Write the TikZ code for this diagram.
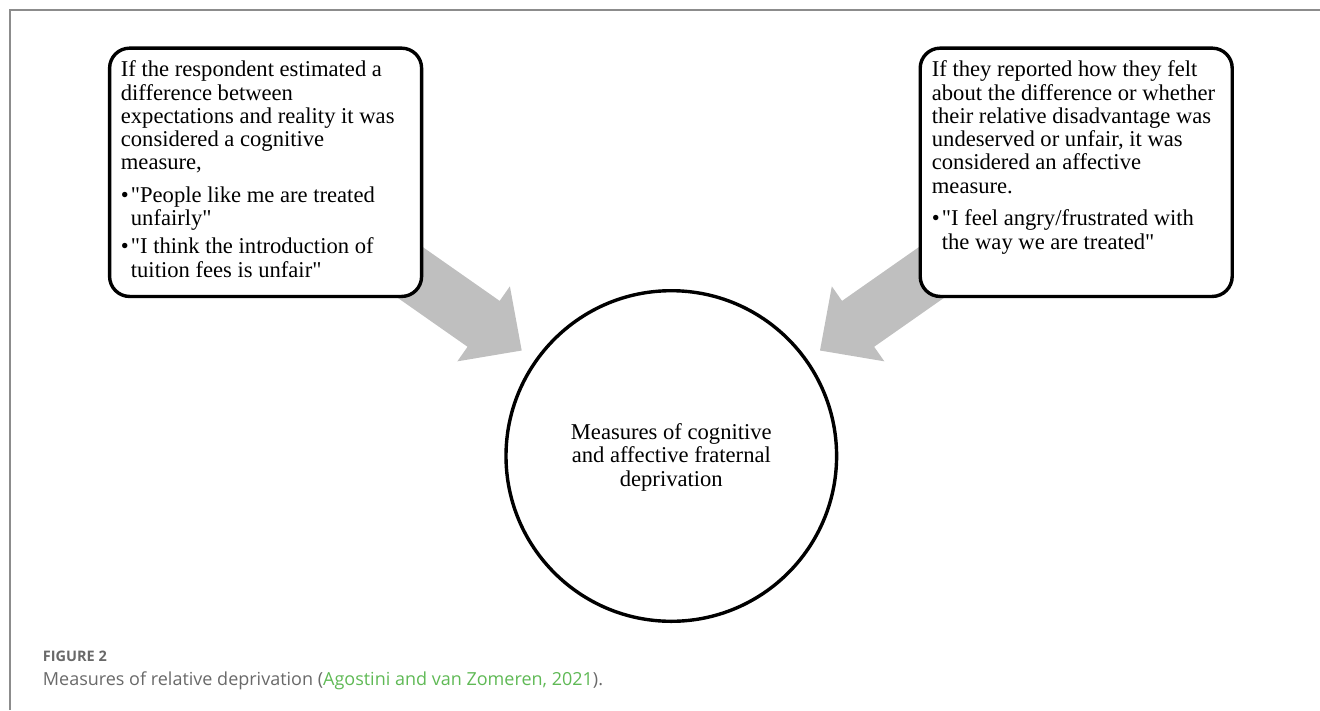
\documentclass[tikz,border=0pt]{standalone}
\usepackage{fontspec}
\setmainfont{Liberation Serif}
\newfontfamily\capfont{Open Sans}
\definecolor{arrowgray}{RGB}{191,191,191}
\definecolor{framegray}{RGB}{140,140,140}
\definecolor{capgray}{RGB}{105,105,105}
\definecolor{capgreen}{RGB}{95,185,85}
\newcommand\dq{\XeTeXglyph\XeTeXcharglyph"22\relax}
\newcommand\bul{\makebox[10pt][l]{\textbullet}}
\tikzset{
  blockarrow/.pic={\fill[arrowgray] (0,0) -- (-46.5,-45.8) -- (-46.5,-28) -- (-270,-28) -- (-270,28) -- (-46.5,28) -- (-46.5,45.8) -- cycle;},
  textbox/.style={draw=black, line width=3.4pt, rounded corners=20pt, fill=white,
    minimum width=312pt, minimum height=248.3pt, inner sep=0pt},
  boxtext/.style={anchor=base west, inner sep=0pt, font=\fontsize{22.6}{23.3}\selectfont},
  circtext/.style={anchor=base, inner sep=0pt, font=\fontsize{22.6}{23.8}\selectfont},
  captext/.style={anchor=base west, inner sep=0pt, text=capgray}
}
\begin{document}
\begin{tikzpicture}[x=1pt,y=-1pt]
\useasboundingbox (0,0) rectangle (1320,710);
% frame
\coordinate (fbl) at (10,710);
\coordinate (ftl) at (10,10);
\coordinate (ftr) at (1320,10);
\draw[framegray, line width=1.6pt] (fbl) -- (ftl) -- (ftr);
% arrows
\coordinate (ltip) at (521.7,350.5);
\coordinate (rtip) at (820.0,350.5);
\pic[rotate=-35] at (ltip) {blockarrow};
\pic[rotate=-145] at (rtip) {blockarrow};
% boxes
\node[textbox] (lbox) at (265.6,172.3) {};
\node[textbox] (rbox) at (1076.2,172.3) {};
\node[circle, draw=black, line width=3.4pt, fill=white, minimum size=330.6pt, inner sep=0pt] (circ) at (671.3,456) {};
% texts
\node[boxtext] (ltext) at (120.7,76.7) {\parbox[t]{295pt}{\parindent=0pt\parskip=0pt
If the respondent estimated a\\
difference between\\
expectations and reality it was\\
considered a cognitive\\
measure,\par\vspace{9.4pt}
\hangindent=10pt\hangafter=1 \bul\dq People like me are treated\\
unfairly\dq\par\vspace{4.7pt}
\hangindent=10pt\hangafter=1 \bul\dq I think the introduction of\\
tuition fees is unfair\dq}};
\node[boxtext] (rtext) at (931.7,76.7) {\parbox[t]{295pt}{\parindent=0pt\parskip=0pt
If they reported how they felt\\
about the difference or whether\\
their relative disadvantage was\\
undeserved or unfair, it was\\
considered an affective\\
measure.\par\vspace{9.4pt}
\hangindent=10pt\hangafter=1 \bul\dq I feel angry/frustrated with\\
the way we are treated\dq}};
\node[circtext] (ctext) at (671.3,439) {\parbox[t]{260pt}{\centering
Measures of cognitive\\
and affective fraternal\\
deprivation}};
% caption
\node[captext, font=\capfont\bfseries\fontsize{14.5}{17}\selectfont] (fig) at (42.7,661) {FIGURE 2};
\node[captext, font=\capfont\fontsize{18}{21}\selectfont] (cap) at (42.7,685)
  {Measures of relative deprivation (\textcolor{capgreen}{Agostini and van Zomeren, 2021}).};
\end{tikzpicture}
\end{document}
